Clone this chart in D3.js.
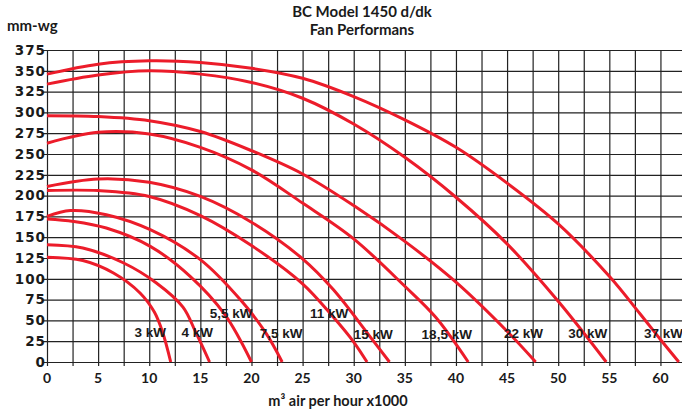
<!DOCTYPE html>
<html>
<head>
<meta charset="utf-8">
<script src="https://d3js.org/d3.v7.min.js"></script>
<style>
  body { margin: 0; background: #fff; }
  svg { display: block; }
  .title { font-family: Lato, "Open Sans", sans-serif; font-weight: bold; font-size: 15px; fill: #1a1a1a; }
  .ytick { font-family: "DejaVu Sans", sans-serif; font-weight: bold; font-size: 13.5px; fill: #1a1a1a; letter-spacing: 1px; }
  .xtick { font-family: Lato, "Open Sans", sans-serif; font-weight: bold; font-size: 14px; fill: #1a1a1a; }
  .kw { font-family: "Liberation Sans", Arial, sans-serif; font-weight: bold; font-size: 13.5px; fill: #1a1a1a; }
</style>
</head>
<body>
<script>
// Data: air volume (m3/h x1000) vs pressure (mm-wg), one array per motor
const kw3   = [[0,126],[3.5,122],[6.5,107],[9.1,83],[10.5,60],[11.3,36],[12.1,0]];
const kw4   = [[0,141],[3.5,137],[7.5,119],[10.7,95],[13.3,66],[14.5,37],[15.9,0]];
const kw55  = [[0,172],[2.6,169],[5.8,161],[10.1,139],[14,103],[17.4,57],[20,0]];
const kw75  = [[0,175],[2.3,182],[5.8,177],[10.1,159],[15,123],[18.9,75],[21.4,35],[23,0]];
const kw11  = [[0,206],[5,206],[10,199],[15,176],[20,140],[25,94],[28,54],[30,24],[31.3,0]];
const kw15  = [[0,211],[5,220],[10,216],[15,199],[20,168],[25,124],[28,87],[31.5,32],[33.5,0]];
const kw185 = [[0,263],[5,276],[10,274],[15,258],[20,231],[25,191],[30,148],[35,91],[38,54],[41.2,0]];
const kw22  = [[0,296],[5,295],[10,290],[15,277],[20,254],[25,226],[30,188],[35,145],[40,96],[45,37],[47.8,0]];
const kw30  = [[0,334],[5,345],[10,350],[15,346],[20,336],[25,317],[30,286],[35,246],[40,198],[45,142],[50,73],[54.7,0]];
const kw37  = [[0,346],[5,358],[10,362],[15,360],[20,353],[25,341],[30,319],[35,291],[40,258],[45,215],[50,166],[55,103],[58,58],[60,27],[61.8,0]];

const series = [kw3, kw4, kw55, kw75, kw11, kw15, kw185, kw22, kw30, kw37];
const seriesNames = ["3 kW", "4 kW", "5,5 kW", "7,5 kW", "11 kW", "15 kW", "18,5 kW", "22 kW", "30 kW", "37 kW"];
// where each name sits, in chart units
const labelX = [10.1, 14.7, 18.0, 22.9, 27.6, 31.9, 39.1, 46.6, 52.9, 60.3];
const labelY = [36, 36, 59, 35, 59, 34, 34, 35, 35, 35];

const xTicks = d3.range(0, 61, 5);
const yTicks = d3.range(0, 376, 25);
const xGrid = d3.range(0, 62.6, 2.5);

const width = 682, height = 418;
const margin = { top: 50, right: -4, bottom: 56, left: 47 };

const svg = d3.select("body").append("svg")
  .attr("width", width)
  .attr("height", height);

const x = d3.scaleLinear()
  .domain([0, 62.5])
  .range([margin.left, width - margin.right]);

const y = d3.scaleLinear()
  .domain([0, 375])
  .range([height - margin.bottom, margin.top]);

const plotH = y(0) - y(375);
const plotW = x(62.5) - x(0);

// Grid (drawn as axes with long ticks, poking 4px out past the frame)
svg.append("g")
  .attr("transform", `translate(0,${y(0) + 4})`)
  .call(d3.axisBottom(x).tickValues(xGrid).tickSize(-(plotH + 4)).tickFormat(""))
  .call(g => g.select(".domain").remove())
  .selectAll("line").attr("stroke", "#222").attr("stroke-width", 1.2);

svg.append("g")
  .attr("transform", `translate(${x(0) - 4},0)`)
  .call(d3.axisLeft(y).tickValues(yTicks).tickSize(-(plotW + 4)).tickFormat(""))
  .call(g => g.select(".domain").remove())
  .selectAll("line").attr("stroke", "#222").attr("stroke-width", 1.2);

// Curves
const line = d3.line()
  .x(d => x(d[0]))
  .y(d => y(d[1]))
  .curve(d3.curveCatmullRom.alpha(0.5));

svg.selectAll(".curve")
  .data(series)
  .enter()
  .append("path")
  .attr("class", "curve")
  .attr("d", line)
  .attr("fill", "none")
  .attr("stroke", "#ec1c2a")
  .attr("stroke-width", 3);

// Curve labels
svg.selectAll(".kw")
  .data(seriesNames)
  .enter()
  .append("text")
  .attr("class", "kw")
  .attr("x", (d, i) => x(labelX[i]))
  .attr("y", (d, i) => y(labelY[i]))
  .attr("dy", "0.36em")
  .attr("text-anchor", "middle")
  .text(d => d);

// Tick labels
svg.selectAll(".ytick")
  .data(yTicks)
  .enter()
  .append("text")
  .attr("class", "ytick")
  .attr("x", 46)
  .attr("y", d => y(d))
  .attr("dy", "0.36em")
  .attr("text-anchor", "end")
  .text(d => d);

svg.selectAll(".xtick")
  .data(xTicks)
  .enter()
  .append("text")
  .attr("class", "xtick")
  .attr("x", d => x(d))
  .attr("y", 383)
  .attr("text-anchor", "middle")
  .text(d => d);

// Titles
svg.append("text").attr("class", "title")
  .attr("x", 362).attr("y", 17).attr("text-anchor", "middle")
  .text("BC Model 1450 d/dk");
svg.append("text").attr("class", "title")
  .attr("x", 362).attr("y", 35).attr("text-anchor", "middle")
  .text("Fan Performans");

svg.append("text").attr("class", "title")
  .attr("x", 7).attr("y", 31)
  .text("mm-wg");

svg.append("text").attr("class", "title")
  .attr("x", 338).attr("y", 406).attr("text-anchor", "middle")
  .style("font-size", "14.5px")
  .text("m³ air per hour x1000");
</script>
</body>
</html>
